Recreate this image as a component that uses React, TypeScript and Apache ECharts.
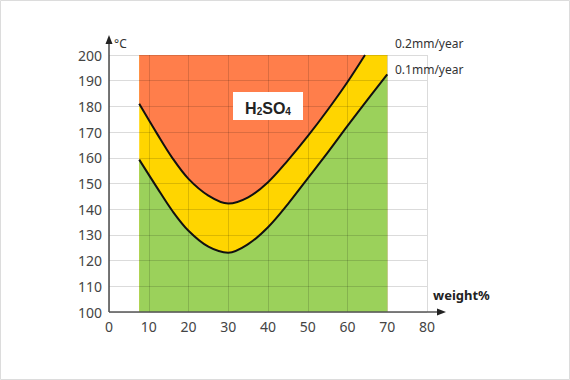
import React, { useEffect, useRef } from "react";
import * as echarts from "echarts";

// Corrosion curves
const weights01 = [7.6, 12, 16, 20, 25, 30, 35, 40, 45, 50, 55, 60, 65, 70];
const temps01 = [159.3, 148.6, 139.2, 131.6, 125.4, 123.1, 126.4, 133, 142, 152, 162, 172.4, 182.5, 192.5];
const weights02 = [7.6, 12, 16, 20, 25, 30, 35, 40, 45, 50, 55, 60, 64.4];
const temps02 = [181, 169.6, 159.8, 151.8, 145.3, 142.2, 144.6, 150.5, 159, 168.4, 178.6, 189.5, 200];
const regionX = [7.6, 70];
const tempMax = 200;
const seriesNames = ["0.1mm/year", "0.2mm/year"];
const xTicks = [0, 80];
const yTicks = [100, 200];

const W = 570;
const H = 380;
const G = { left: 109, top: 55, right: 143, bottom: 68 };

export default function App() {
  const ref = useRef<HTMLDivElement>(null);
  useEffect(() => {
    if (!ref.current) return;
    const chart = echarts.init(ref.current, undefined, { renderer: "svg" });
    const lower = weights01.map((w, i) => [w, temps01[i]]);
    const upper = weights02.map((w, i) => [w, temps02[i]]);
    const rect = regionX.map((x) => [x, tempMax]);
    const axisBottom = H - G.bottom;
    const axisColor = "#555";
    const font = "Noto Sans, sans-serif";
    const sm = 0.35;
    chart.setOption({
      animation: false,
      grid: { left: G.left, top: G.top, right: G.right, bottom: G.bottom },
      xAxis: {
        type: "value",
        min: xTicks[0],
        max: xTicks[1],
        interval: 10,
        z: 3,
        axisLine: { show: false },
        axisTick: { show: false },
        axisLabel: { color: "#444", fontSize: 14, fontFamily: font, margin: 7 },
        splitLine: { show: true, lineStyle: { color: "rgba(0,0,0,0.14)", width: 1 } },
      },
      yAxis: {
        type: "value",
        min: yTicks[0],
        max: yTicks[1],
        interval: 10,
        z: 3,
        axisLine: { show: false },
        axisTick: { show: false },
        axisLabel: { color: "#444", fontSize: 14, fontFamily: font, margin: 7 },
        splitLine: { show: true, lineStyle: { color: "rgba(0,0,0,0.14)", width: 1 } },
      },
      series: [
        {
          type: "line",
          data: rect,
          symbol: "none",
          z: 1,
          lineStyle: { width: 0 },
          areaStyle: { color: "#FFD500", opacity: 1, origin: "start" },
        },
        {
          type: "line",
          data: lower,
          symbol: "none",
          smooth: sm,
          z: 2,
          lineStyle: { width: 0 },
          areaStyle: { color: "#9BD15B", opacity: 1, origin: "start" },
        },
        {
          type: "line",
          data: upper,
          symbol: "none",
          smooth: sm,
          z: 2,
          lineStyle: { width: 0 },
          areaStyle: { color: "#FF7E4B", opacity: 1, origin: "end" },
        },
        {
          name: seriesNames[0],
          type: "line",
          data: lower,
          symbol: "none",
          smooth: sm,
          z: 5,
          lineStyle: { color: "#111", width: 2 },
        },
        {
          name: seriesNames[1],
          type: "line",
          data: upper,
          symbol: "none",
          smooth: sm,
          z: 5,
          lineStyle: { color: "#111", width: 2 },
        },
      ],
      graphic: [
        {
          type: "rect",
          z: 100,
          shape: { x: 0.5, y: 0.5, width: W - 1, height: H - 1 },
          style: { fill: "none", stroke: "#dcdcdc", lineWidth: 1 },
        },
        {
          type: "line",
          z: 50,
          shape: { x1: G.left, y1: axisBottom, x2: 439, y2: axisBottom },
          style: { stroke: axisColor, lineWidth: 1.6 },
        },
        {
          type: "polygon",
          z: 50,
          shape: { points: [[446, axisBottom], [437, axisBottom - 3.5], [437, axisBottom + 3.5]] },
          style: { fill: "#222" },
        },
        {
          type: "line",
          z: 50,
          shape: { x1: G.left, y1: axisBottom, x2: G.left, y2: 42 },
          style: { stroke: axisColor, lineWidth: 1.6 },
        },
        {
          type: "polygon",
          z: 50,
          shape: { points: [[G.left, 35], [G.left - 3.5, 44], [G.left + 3.5, 44]] },
          style: { fill: "#222" },
        },
        {
          type: "text",
          z: 50,
          x: 114,
          y: 43,
          style: { text: "°C", fontSize: 12, fontFamily: font, fill: "#333", verticalAlign: "middle" },
        },
        {
          type: "text",
          z: 50,
          x: 395,
          y: 43,
          style: { text: seriesNames[1], fontSize: 12, fontFamily: font, fill: "#333", verticalAlign: "middle" },
        },
        {
          type: "text",
          z: 50,
          x: 395,
          y: 69,
          style: { text: seriesNames[0], fontSize: 12, fontFamily: font, fill: "#333", verticalAlign: "middle" },
        },
        {
          type: "text",
          z: 50,
          x: 433,
          y: 295,
          style: {
            text: "weight%",
            fontSize: 13,
            fontWeight: "bold",
            fontFamily: font,
            fill: "#222",
            verticalAlign: "middle",
          },
        },
        {
          type: "rect",
          z: 50,
          shape: { x: 233, y: 92, width: 70, height: 28 },
          style: { fill: "#fff" },
        },
        {
          type: "text",
          z: 51,
          x: 268,
          y: 107,
          style: {
            text: "{b|H}{s|2}{b|SO}{s|4}",
            align: "center",
            verticalAlign: "middle",
            rich: {
              b: { fontSize: 16, fontWeight: "bold", fontFamily: "Liberation Sans, Arial, sans-serif", fill: "#222", verticalAlign: "bottom", lineHeight: 18 },
              s: { fontSize: 10, fontWeight: "bold", fontFamily: "Liberation Sans, Arial, sans-serif", fill: "#222", verticalAlign: "bottom", lineHeight: 14 },
            },
          },
        },
      ],
    });
    return () => chart.dispose();
  }, []);
  return (
    <div
      ref={ref}
      style={{ position: "absolute", left: 0, top: 0, width: W, height: H, background: "#fff" }}
    />
  );
}
